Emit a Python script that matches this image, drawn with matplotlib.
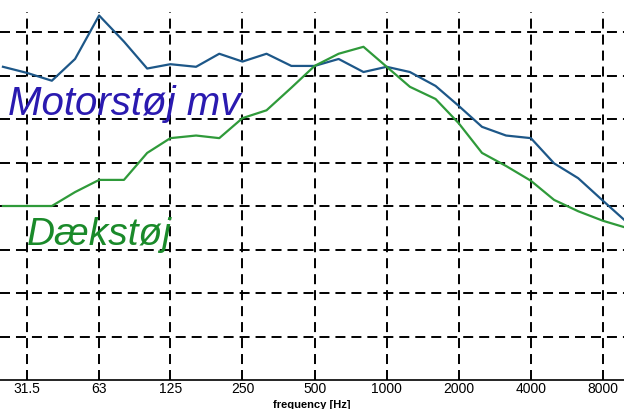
import matplotlib
matplotlib.use("Agg")
import matplotlib.pyplot as plt

# Third-octave band centre frequencies (Hz)
freqs = [25, 31.5, 40, 50, 63, 80, 100, 125, 160, 200, 250, 315, 400, 500,
         630, 800, 1000, 1250, 1600, 2000, 2500, 3150, 4000, 5000, 6300, 8000, 10000]

# Relative levels (dB)
motor_levels = [36.0, 35.3, 34.4, 36.9, 41.9, 38.9, 35.8, 36.3, 36.0, 37.5, 36.6, 37.5, 36.1, 36.1,
                36.9, 35.4, 36.0, 35.4, 33.8, 31.5, 29.1, 28.1, 27.8, 24.9, 23.2, 20.6, 18.2]
tyre_levels = [20.0, 20.0, 20.0, 21.6, 23.0, 23.0, 26.1, 27.8, 28.1, 27.8, 30.1, 31.0, 33.6, 36.1,
               37.5, 38.3, 36.0, 33.7, 32.3, 29.5, 26.1, 24.6, 22.9, 20.7, 19.4, 18.3, 17.5]

tick_freqs = [31.5, 63, 125, 250, 500, 1000, 2000, 4000, 8000]
tick_labels = ["31.5", "63", "125", "250", "500", "1000", "2000", "4000", "8000"]
grid_levels = [5, 10, 15, 20, 25, 30, 35, 40]

label_motor = "Motorstøj mv"
label_tyre = "Dækstøj"
xlabel = "frequency [Hz]"

plt.rcParams['lines.scale_dashes'] = False
plt.rcParams['font.family'] = ['Liberation Sans', 'DejaVu Sans']

W, H = 624, 410
AX_BOTTOM = 381
AX_TOP = 13
fig = plt.figure(figsize=(W / 100, H / 100), dpi=100)
ax = fig.add_axes([0, (H - AX_BOTTOM) / H, 1, (AX_BOTTOM - AX_TOP) / H])

ax.set_xscale('log')
ax.set_xlim(24.3, 9789)
ax.set_ylim(0, (AX_BOTTOM - AX_TOP) / 8.7)

dash = (0, (7.2, 4.3))
for f in tick_freqs:
    ax.axvline(f, color='black', lw=1.4, linestyle=dash, zorder=1)
for g in grid_levels:
    ax.axhline(g, color='black', lw=1.4, linestyle=dash, zorder=1)

ax.plot(freqs, motor_levels, color='#1d5788', lw=1.6, zorder=3)
ax.plot(freqs, tyre_levels, color='#2f9a3a', lw=1.6, zorder=3)

ax.set_xticks(tick_freqs)
ax.set_xticklabels(tick_labels, fontsize=10)
ax.xaxis.set_minor_locator(matplotlib.ticker.NullLocator())
ax.tick_params(axis='x', length=0, pad=0.5)
ax.set_yticks([])
for s in ['top', 'left', 'right']:
    ax.spines[s].set_visible(False)
ax.spines['bottom'].set_linewidth(1.2)

fig.text(8 / W, (H - 115) / H, label_motor, color='#2a1ab0', fontsize=29,
         style='italic', va='baseline', ha='left')
fig.text(27 / W, (H - 245) / H, label_tyre, color='#1a8a2a', fontsize=28,
         style='italic', va='baseline', ha='left')
fig.text(312 / W, 0.3 / H, xlabel, fontsize=8, fontweight='bold',
         ha='center', va='bottom')

fig.savefig('out.png', dpi=100)
